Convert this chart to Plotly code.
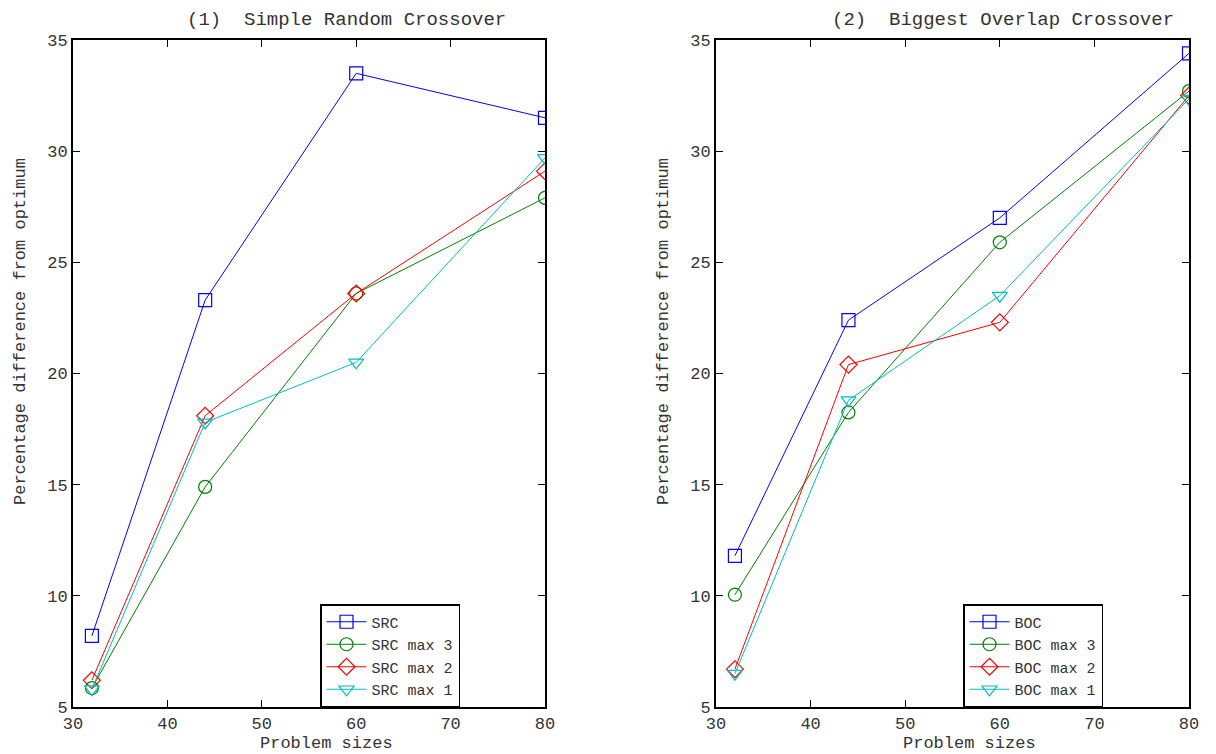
import plotly.graph_objects as go

sizes = [32, 44, 60, 80]

src = [8.2, 23.3, 33.5, 31.5]
src_max3 = [5.85, 14.9, 23.6, 27.9]
src_max2 = [6.2, 18.1, 23.6, 29.1]
src_max1 = [5.8, 17.8, 20.5, 29.7]

boc = [11.8, 22.4, 27.0, 34.4]
boc_max3 = [10.05, 18.25, 25.9, 32.7]
boc_max2 = [6.7, 20.4, 22.3, 32.5]
boc_max1 = [6.5, 18.8, 23.5, 32.35]

titles = ["(1)  Simple Random Crossover", "(2)  Biggest Overlap Crossover"]
x_title = "Problem sizes"
y_title = "Percentage difference from optimum"

FONT = "Liberation Mono, Courier New, monospace"
colors = ["#0000ff", "#008000", "#ff0000", "#00bfbf"]
symbols = ["square-open", "circle-open", "diamond-open", "triangle-down-open"]

left_series = [("SRC", src), ("SRC max 3", src_max3), ("SRC max 2", src_max2), ("SRC max 1", src_max1)]
right_series = [("BOC", boc), ("BOC max 3", boc_max3), ("BOC max 2", boc_max2), ("BOC max 1", boc_max1)]

fig = go.Figure()

for i, (name, vals) in enumerate(left_series):
    fig.add_trace(go.Scatter(x=sizes, y=vals, name=name, mode="lines+markers",
                             line=dict(color=colors[i], width=1),
                             marker=dict(symbol=symbols[i], size=13, color=colors[i], line=dict(width=1.2)),
                             xaxis="x", yaxis="y", legend="legend"))
for i, (name, vals) in enumerate(right_series):
    fig.add_trace(go.Scatter(x=sizes, y=vals, name=name, mode="lines+markers",
                             line=dict(color=colors[i], width=1),
                             marker=dict(symbol=symbols[i], size=13, color=colors[i], line=dict(width=1.2)),
                             xaxis="x2", yaxis="y2", legend="legend2"))

W, H = 1216, 754
ydom = [1 - 707 / H, 1 - 40 / H]
xdom1 = [73 / W, 545 / W]
xdom2 = [716 / W, 1189 / W]

axis_common = dict(showline=True, linecolor="black", linewidth=2, mirror="ticks",
                   ticks="inside", ticklen=7, tickwidth=1, tickcolor="black",
                   showgrid=False, zeroline=False, automargin=False,
                   tickfont=dict(family=FONT, size=17, color="#333333"))

leg_common = dict(xanchor="left", yanchor="top",
                  bgcolor="white", bordercolor="black", borderwidth=1.5,
                  font=dict(family=FONT, size=15, color="#333333"), itemwidth=40,
                  tracegroupgap=0)

fig.update_layout(
    width=W, height=H,
    margin=dict(l=0, r=0, t=0, b=0, autoexpand=False),
    paper_bgcolor="white", plot_bgcolor="white",
    font=dict(family=FONT, color="#333333"),
    xaxis=dict(domain=xdom1, range=[30, 80], dtick=10, tick0=30, anchor="y",
               ticklabelstandoff=0, **axis_common),
    yaxis=dict(domain=ydom, range=[5, 35], dtick=5, tick0=5, anchor="x", **axis_common),
    xaxis2=dict(domain=xdom2, range=[30, 80], dtick=10, tick0=30, anchor="y2",
                ticklabelstandoff=0, **axis_common),
    yaxis2=dict(domain=ydom, range=[5, 35], dtick=5, tick0=5, anchor="x2", **axis_common),
    legend=dict(x=320 / W, y=1 - 604 / H, **leg_common),
    legend2=dict(x=963 / W, y=1 - 604 / H, **leg_common),
    showlegend=True,
)

ann_font = dict(family=FONT, size=19, color="#333333")
axt_font = dict(family=FONT, size=17, color="#333333")
fig.add_annotation(text=titles[0], x=346 / W, y=1 - 20 / H, xref="paper", yref="paper",
                   showarrow=False, font=ann_font, xanchor="center", yanchor="middle")
fig.add_annotation(text=titles[1], x=1003 / W, y=1 - 20 / H, xref="paper", yref="paper",
                   showarrow=False, font=ann_font, xanchor="center", yanchor="middle")
for cx in (326, 969):
    fig.add_annotation(text=x_title, x=cx / W, y=0, xref="paper", yref="paper",
                       showarrow=False, font=axt_font, xanchor="center", yanchor="bottom",
                       borderpad=0)
for cx in (20, 663):
    fig.add_annotation(text=y_title, x=cx / W, y=1 - 332 / H, xref="paper", yref="paper",
                       showarrow=False, font=axt_font, textangle=-90,
                       xanchor="center", yanchor="middle")

fig.write_html("out.html")
